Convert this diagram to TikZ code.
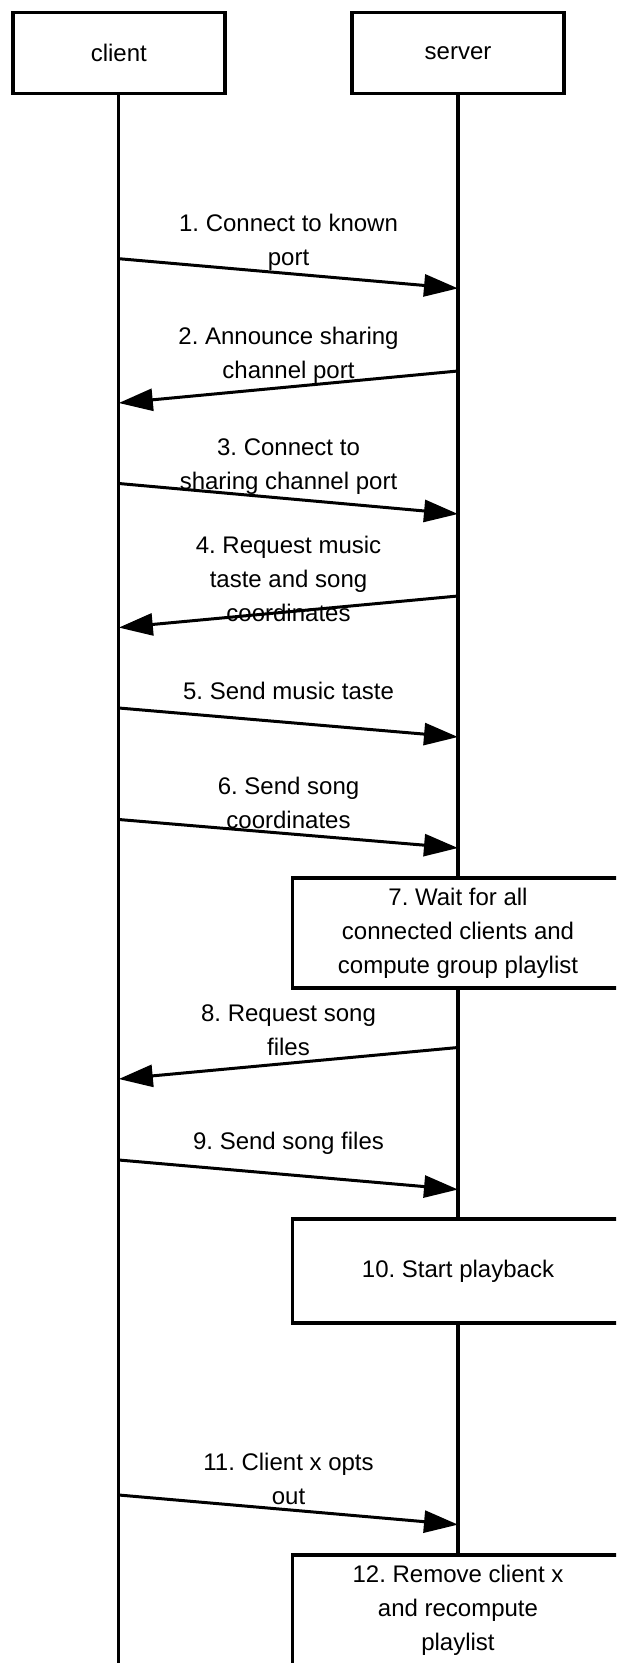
\documentclass[tikz,border=0pt]{standalone}
\usepackage{fontspec}
\setmainfont{Liberation Sans}
\usetikzlibrary{arrows.meta,positioning}
\frenchspacing

\begin{document}
\begin{tikzpicture}[
  x=0.5pt, y=-0.5pt,
  actor/.style={draw, line width=1.7pt, fill=white, minimum width=106pt, minimum height=40.3pt, font=\fontsize{12}{17}\selectfont},
  action/.style={draw, line width=1.7pt, fill=white, align=center, minimum width=165.5pt, minimum height=55pt, font=\fontsize{12}{17}\selectfont},
  msg/.style={align=center, font=\fontsize{12}{17}\selectfont},
  life/.style={line width=1.6pt},
  arrow/.style={-{Triangle[length=17pt,width=11pt]}, line width=1.5pt}
]
\useasboundingbox (0,0) rectangle (616,1663);
\clip (0,0) rectangle (616,1663);

% Actors
\node[actor] (client) at (118.8,53) {client};
\node[actor] (server) at (458,53) {server};

% Lifelines
\coordinate (cend) at (118.8,1670);
\coordinate (send) at (458,1670);
\draw[life] (client.south) -- (cend);
\draw[life] (server.south) -- (send);

% Message end points
\coordinate (c1) at (118.8,258.7);  \coordinate (s1) at (458,288.4);
\coordinate (s2) at (458,371);      \coordinate (c2) at (118.8,403);
\coordinate (c3) at (118.8,483.5);  \coordinate (s3) at (458,514);
\coordinate (s4) at (458,596);      \coordinate (c4) at (118.8,627.6);
\coordinate (c5) at (118.8,708);    \coordinate (s5) at (458,737);
\coordinate (c6) at (118.8,819.5);  \coordinate (s6) at (458,848);
\coordinate (s8) at (458,1047.5);   \coordinate (c8) at (118.8,1079);
\coordinate (c9) at (118.8,1160);   \coordinate (s9) at (458,1189.5);
\coordinate (c11) at (118.8,1495);  \coordinate (s11) at (458,1524.6);

% Messages
\draw[arrow] (c1) -- (s1);
\draw[arrow] (s2) -- (c2);
\draw[arrow] (c3) -- (s3);
\draw[arrow] (s4) -- (c4);
\draw[arrow] (c5) -- (s5);
\draw[arrow] (c6) -- (s6);
\draw[arrow] (s8) -- (c8);
\draw[arrow] (c9) -- (s9);
\draw[arrow] (c11) -- (s11);

% Labels
\node[msg] (l1) at (288.5,242.7) {1. Connect to known\\port};
\node[msg] (l2) at (288.5,355) {2. Announce sharing\\channel port};
\node[msg] (l3) at (288.5,467) {3. Connect to\\sharing channel port};
\node[msg] (l4) at (288.5,579) {4. Request music\\taste and song\\coordinates};
\node[msg] (l5) at (288.5,691) {5. Send music taste};
\node[msg] (l6) at (288.5,803) {6. Send song\\coordinates};
\node[msg] (l8) at (288.5,1030) {8. Request song\\files};
\node[msg] (l9) at (288.5,1143) {9. Send song files};
\node[msg] (l11) at (288.5,1479) {11. Client x opts\\out};

% Server actions
\node[action] (wait) at (458,933) {7. Wait for all\\connected clients and\\compute group playlist};
\node[action, minimum height=52pt] (play) at (458,1271) {10. Start playback};
\node[action] (remove) at (458,1610) {12. Remove client x\\and recompute\\playlist};

\end{tikzpicture}
\end{document}
